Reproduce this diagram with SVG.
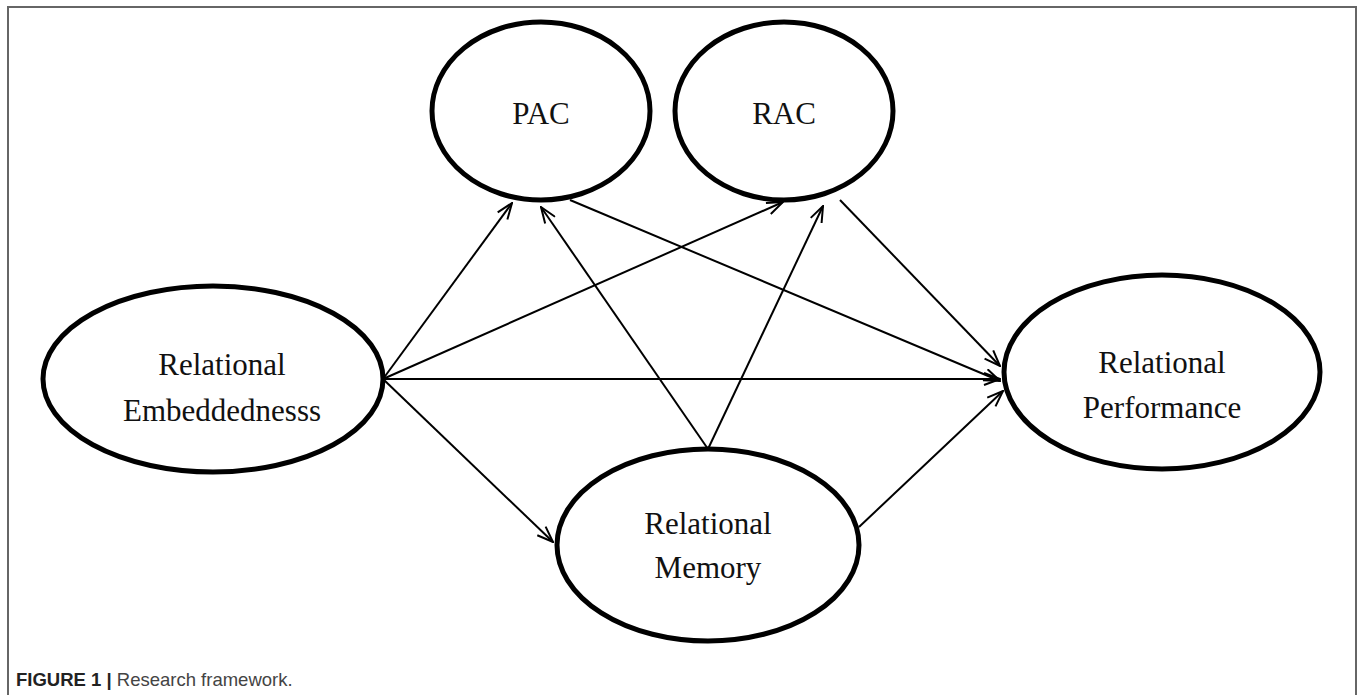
<svg xmlns="http://www.w3.org/2000/svg" width="1360" height="695" viewBox="0 0 1360 695">
<defs>
<style>
.node{fill:#fff;stroke:#000;stroke-width:5}
.lbl{font-family:"Liberation Serif","Times New Roman",serif;font-size:31px;fill:#111;text-anchor:middle}
.edge{stroke:#000;stroke-width:2;fill:none;marker-end:url(#arr)}
.cap{font-family:"Liberation Sans",Arial,sans-serif;font-size:18.5px}
</style>
<marker id="arr" markerUnits="userSpaceOnUse" viewBox="0 0 18 14" refX="17" refY="7" markerWidth="18" markerHeight="14" orient="auto">
<path d="M1,1 L17,7 L1,13" fill="none" stroke="#000" stroke-width="2"/>
</marker>
</defs>
<rect width="1360" height="695" fill="#fff"/>
<path d="M8,695 V7 H1356 V695" fill="none" stroke="#666" stroke-width="2"/>
<g id="connectors">
<line class="edge" x1="383" y1="379" x2="512" y2="203"/>
<line class="edge" x1="383" y1="379" x2="783" y2="202"/>
<line class="edge" x1="383" y1="379" x2="1000" y2="379"/>
<line class="edge" x1="383" y1="379" x2="553" y2="542"/>
<line class="edge" x1="708" y1="449" x2="541" y2="207"/>
<line class="edge" x1="708" y1="449" x2="823" y2="206"/>
<line class="edge" x1="570" y1="200" x2="1000" y2="381"/>
<line class="edge" x1="840" y1="200" x2="1000" y2="366"/>
<line class="edge" x1="859" y1="527" x2="1003" y2="391"/>
</g>
<g id="PAC">
<ellipse class="node" cx="541" cy="111" rx="109" ry="89"/>
<text class="lbl" x="541" y="124">PAC</text>
</g>
<g id="RAC">
<ellipse class="node" cx="784" cy="111" rx="109" ry="89"/>
<text class="lbl" x="784" y="124">RAC</text>
</g>
<g id="RE">
<ellipse class="node" cx="213" cy="379" rx="170" ry="93"/>
<text class="lbl" x="222" y="375">Relational</text>
<text class="lbl" x="222" y="421">Embeddednesss</text>
</g>
<g id="RM">
<ellipse class="node" cx="708" cy="545" rx="151" ry="96"/>
<text class="lbl" x="708" y="534">Relational</text>
<text class="lbl" x="708" y="578">Memory</text>
</g>
<g id="RP">
<ellipse class="node" cx="1162" cy="372" rx="158" ry="97"/>
<text class="lbl" x="1162" y="373">Relational</text>
<text class="lbl" x="1162" y="418">Performance</text>
</g>
<text class="cap" x="16" y="686"><tspan font-weight="bold" fill="#222">FIGURE 1 | </tspan><tspan fill="#444">Research framework.</tspan></text>
</svg>
